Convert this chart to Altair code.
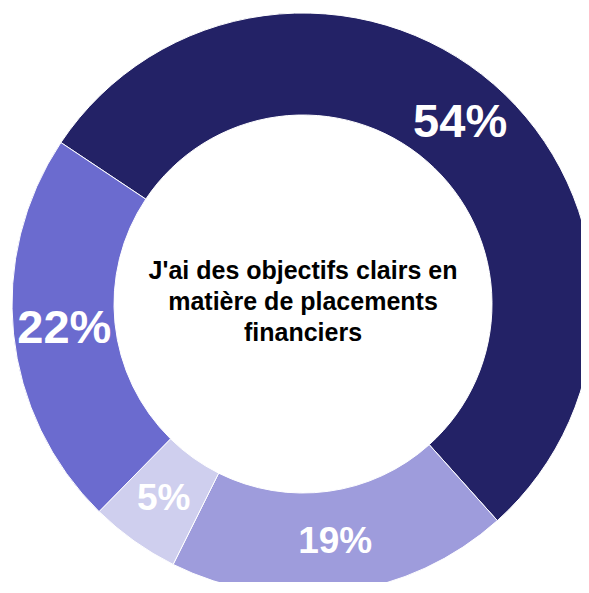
import math
import altair as alt
import pandas as pd

# Data (clockwise order starting at the upper-left boundary)
categories = ["Tout à fait d'accord", "Plutôt pas d'accord", "Pas du tout d'accord", "Plutôt d'accord"]
values = [54, 19, 5, 22]
colors = ["#232266", "#9e9cdc", "#cfcfee", "#6b6bcf"]
center_lines = ["J'ai des objectifs clairs en", "matière de placements", "financiers"]

df = pd.DataFrame({"categorie": categories, "valeur": values, "ordre": list(range(len(values)))})

start = math.radians(-56.3)
theta_scale = alt.Scale(range=[start, start + 2 * math.pi])

base = alt.Chart(df).encode(
    theta=alt.Theta("valeur:Q", stack=True, scale=theta_scale),
    order=alt.Order("ordre:Q"),
)

arcs = base.mark_arc(outerRadius=291, innerRadius=189, stroke="white", strokeWidth=1).encode(
    color=alt.Color("categorie:N", scale=alt.Scale(domain=categories, range=colors), legend=None)
)

labels = base.transform_calculate(label="datum.valeur + '%'").mark_text(
    radius=240, font="Liberation Sans", fontWeight="bold", color="white", align="center", baseline="middle"
).encode(
    text="label:N",
    size=alt.condition("datum.valeur >= 20", alt.value(47), alt.value(37)),
)

center = alt.Chart(pd.DataFrame({"t": [center_lines]})).mark_text(
    font="Liberation Sans", fontWeight="bold", fontSize=25, lineHeight=31, color="black",
    align="center", baseline="middle", dy=-33
).encode(text="t")

chart = alt.layer(arcs, labels, center).properties(
    width=556, height=556,
    padding={"left": 17, "top": 18, "right": 0, "bottom": 0},
    autosize=alt.AutoSizeParams(type="none"),
).configure_view(stroke=None)

chart.save("out.html", embed_options={"renderer": "svg", "actions": False})
